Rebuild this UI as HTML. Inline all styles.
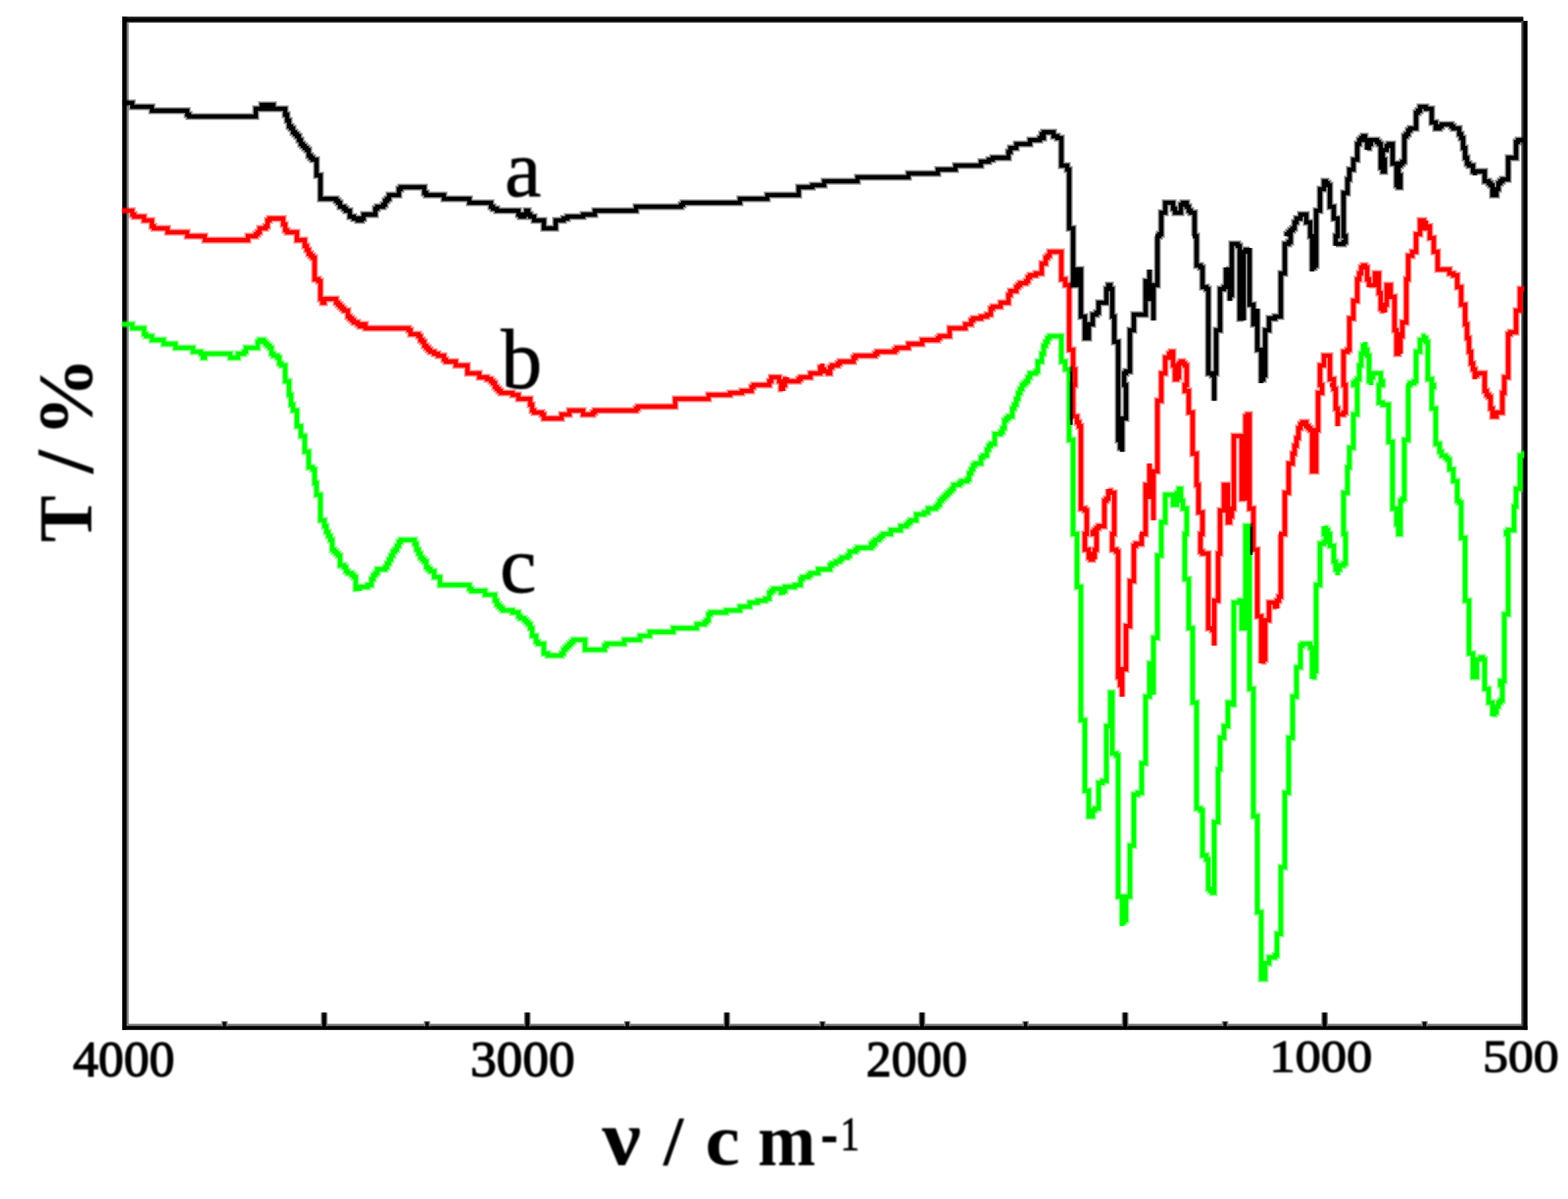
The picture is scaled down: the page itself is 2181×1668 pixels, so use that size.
<!DOCTYPE html>
<html lang="en"><head><meta charset="utf-8"><title>FT-IR spectra</title>
<style>
html,body{margin:0;padding:0;background:#fff;}
body{width:2181px;height:1668px;overflow:hidden;}
svg{display:block;position:absolute;left:0;top:0;}
text{font-family:"Liberation Serif","DejaVu Serif",serif;fill:#000;}
.tk{font-size:70px;text-anchor:middle;stroke:#000;stroke-width:1.4px;paint-order:stroke;}
.ax{font-size:100px;font-weight:bold;}
.lb{font-size:118px;}
.fr{stroke-width:9.8px !important;stroke-opacity:.42;}
.cv{fill:none;stroke-width:5.8px;stroke-linejoin:miter;stroke-miterlimit:2;stroke-linecap:square;mix-blend-mode:multiply;}
</style></head><body>
<svg xmlns="http://www.w3.org/2000/svg" width="2181" height="1668" viewBox="0 0 2181 1668">
<defs><filter id="sf" x="-2%" y="-2%" width="104%" height="104%"><feGaussianBlur stdDeviation="0.75"/></filter>
<clipPath id="pc"><rect x="169.6" y="20" width="1950.6" height="1420"/></clipPath>
<filter id="tf" x="-5%" y="-5%" width="110%" height="110%"><feGaussianBlur stdDeviation="0.8"/></filter></defs>
<rect x="0" y="0" width="2181" height="1668" fill="#fff"/>

<g filter="url(#sf)">
<rect x="170" y="23.1" width="1948.8" height="8.4" fill="#2a2a2a"/>
<rect x="170" y="25.5" width="1948.8" height="4" fill="#000"/>
<rect x="170" y="23.1" width="6.6" height="1409.6" fill="#000"/>
<rect x="176.6" y="31" width="2.4" height="1394" fill="#808080"/>
<rect x="176" y="1424.2" width="1942" height="3" fill="#808080"/>
<rect x="170" y="1427.2" width="1954.7" height="5.6" fill="#000"/>
<rect x="2116" y="29" width="3" height="1398" fill="#505050"/>
<rect x="2118.6" y="29" width="6.1" height="1403.7" fill="#000"/>
<rect x="446.3" y="1408.6" width="9.2" height="19" fill="#7a7a7a"/>
<rect x="448.2" y="1408.6" width="5.4" height="19.4" fill="#000"/>
<rect x="728.9" y="1408.6" width="9.2" height="19" fill="#7a7a7a"/>
<rect x="730.8" y="1408.6" width="5.4" height="19.4" fill="#000"/>
<rect x="1006.4" y="1408.6" width="9.2" height="19" fill="#7a7a7a"/>
<rect x="1008.3" y="1408.6" width="5.4" height="19.4" fill="#000"/>
<rect x="1277.9" y="1408.6" width="9.2" height="19" fill="#7a7a7a"/>
<rect x="1279.8" y="1408.6" width="5.4" height="19.4" fill="#000"/>
<rect x="1560.4" y="1408.6" width="9.2" height="19" fill="#7a7a7a"/>
<rect x="1562.3" y="1408.6" width="5.4" height="19.4" fill="#000"/>
<rect x="1837.9" y="1408.6" width="9.2" height="19" fill="#7a7a7a"/>
<rect x="1839.8" y="1408.6" width="5.4" height="19.4" fill="#000"/>
<rect x="307.8" y="1420.5" width="9" height="7" fill="#8a8a8a"/>
<rect x="309.8" y="1421.5" width="5" height="6.5" fill="#111"/>
<rect x="589.5" y="1420.5" width="9" height="7" fill="#8a8a8a"/>
<rect x="591.5" y="1421.5" width="5" height="6.5" fill="#111"/>
<rect x="868.0" y="1420.5" width="9" height="7" fill="#8a8a8a"/>
<rect x="870.0" y="1421.5" width="5" height="6.5" fill="#111"/>
<rect x="1139.5" y="1420.5" width="9" height="7" fill="#8a8a8a"/>
<rect x="1141.5" y="1421.5" width="5" height="6.5" fill="#111"/>
<rect x="1422.0" y="1420.5" width="9" height="7" fill="#8a8a8a"/>
<rect x="1424.0" y="1421.5" width="5" height="6.5" fill="#111"/>
<rect x="1699.5" y="1420.5" width="9" height="7" fill="#8a8a8a"/>
<rect x="1701.5" y="1421.5" width="5" height="6.5" fill="#111"/>
<rect x="1977.0" y="1420.5" width="9" height="7" fill="#8a8a8a"/>
<rect x="1979.0" y="1421.5" width="5" height="6.5" fill="#111"/>
</g>
<g filter="url(#sf)" style="isolation:isolate">
<defs>
<path id="p_black" d="M173.1 143.1H184.0V148.6H211.3V154.0H260.4V159.5H263.1V162.2H355.8V151.3H364.0V145.9H380.3V151.3H383.0H366.7H396.7V159.5H399.4V167.7H402.1V175.8H404.8V178.6H407.6V184.0H410.3V186.7H413.0V189.5H415.8V194.9H418.5V200.4H421.2V203.1H423.9V205.8H426.7V208.6H429.4V216.7H432.1V219.5H434.8V222.2H440.3V244.0H445.7V276.7H467.6V279.4H470.3V282.2H473.0V287.6H478.5V290.3H481.2V293.1H486.6V301.3H492.1V304.0H497.5V306.7H503.0V304.0H505.7V298.5H522.1V290.3H524.8V287.6H533.0V284.9H535.7V279.4H538.4V276.7H541.2V271.3H554.8V263.1H557.5V260.4H590.2V268.5H593.0V271.3H601.1H590.2H617.5V276.7H652.9V282.2H682.9V287.6H685.7V290.3H691.1V293.1H721.1V298.5H723.8V301.3H729.3V298.5H732.0V293.1H734.7V298.5H737.5V301.3H742.9V306.7H756.5V317.6H772.9V306.7H783.8V304.0H789.2V301.3H811.1V298.5H827.4V293.1H884.7V287.6H947.4V284.9H950.1V282.2H1029.2V276.7H1067.3V271.3H1110.9V260.4H1130.0V257.6H1146.4V252.2H1192.7V246.7H1263.6V241.3H1304.5V235.8H1329.0V230.4H1364.5V224.9H1375.4V222.2H1380.8V219.5H1402.7V211.3H1405.4V205.8H1413.6V200.4H1432.6V194.9H1446.3V192.2H1449.0V186.7H1451.7V192.2H1449.0V194.9V186.7H1451.7V184.0H1465.4V189.5H1470.8V192.2H1476.3V230.4H1484.4V235.8H1487.2V317.6H1492.6V396.7H1498.1V374.9H1503.5V440.3H1509.0V470.3H1514.4V451.2H1519.9V437.6H1525.3V434.8H1528.1V421.2H1539.0V402.1H1541.7V396.7H1544.4V402.1H1547.1V440.3H1549.9V475.7H1555.3V612.0H1558.1V622.9H1560.8V628.4V582.1H1566.2V535.7H1563.5V519.4H1566.2V516.6H1571.7V459.4H1577.1V437.6H1593.5V391.2H1598.9V374.9V415.8H1604.4V445.7V396.7H1609.9V328.5H1607.1H1612.6V325.8H1615.3V295.8H1620.8V282.2H1631.7V290.3H1634.4V295.8H1642.6V284.9H1645.3V282.2H1650.7V287.6H1653.5V293.1H1656.2V295.8H1661.6V328.5H1658.9H1664.4V369.4H1669.8V372.1H1672.6V399.4H1678.0V402.1H1680.7V519.4H1686.2V522.1H1688.9V557.5V519.4H1691.6V459.4H1697.1V402.1H1702.5V399.4H1705.3V372.1V374.9H1708.0V377.6H1710.7V418.5V410.3H1713.4V339.4H1718.9V336.7V339.4H1721.6V342.1H1724.4V443.0H1729.8V445.7V350.3H1732.5V347.6H1738.0V344.9V423.9H1743.4V451.2H1748.9V453.9V429.4V486.6H1754.3V533.0V527.5H1757.1V522.1H1759.8V459.4H1765.2V443.0H1773.4V440.3H1781.6V380.3H1787.1V339.4H1792.5V336.7H1795.2V325.8H1789.8V328.5V325.8H1792.5V323.1H1795.2V320.3H1798.0V317.6H1800.7V309.4H1803.4V304.0H1808.9V298.5H1817.0V309.4H1822.5V328.5H1825.2V377.6V372.1H1828.0V369.4H1830.7V293.1H1836.1V263.1H1841.6V252.2H1844.3V254.9H1847.0V257.6H1849.8V287.6H1855.2V304.0H1860.7V328.5H1857.9V342.1V339.4H1868.8V336.7H1871.6V328.5H1868.8V268.5H1874.3V249.5H1877.0V235.8H1882.5V222.2H1887.9V200.4H1890.7V194.9H1893.4V192.2H1896.1V189.5H1898.8V194.9H1901.6V208.6V205.8H1904.3V200.4H1907.0V194.9H1915.2V197.7H1917.9V200.4H1920.6V233.1H1923.4V238.5H1926.1V222.2H1923.4V208.6H1928.8V203.1H1931.5V200.4H1937.0V227.6H1942.5V257.6H1945.2V260.4H1947.9V244.0H1945.2V230.4H1947.9V227.6H1950.6V224.9H1953.4V189.5H1956.1V186.7H1958.8V181.3H1961.5V178.6H1969.7V156.8H1972.4V154.0H1975.2V148.6H1983.3V151.3H1991.5V170.4H1997.0V178.6H2002.4V175.8H2005.2V173.1H2018.8V175.8H2021.5V178.6H2029.7V186.7H2032.4V192.2H2035.1V205.8H2037.9V219.5H2040.6V227.6H2043.3V230.4H2048.8V238.5H2051.5V244.0V238.5H2065.1V252.2H2070.6V254.9H2073.3V257.6H2076.0V271.3H2081.5V263.1H2084.2V254.9H2086.9V252.2H2089.7V249.5H2097.8V219.5H2108.8V197.7H2111.5V194.9H2119.7"/>
<path id="p_red" d="M170.4 293.1H184.0V298.5H186.7V301.3H200.4V306.7H211.3V314.9H214.0V317.6H233.1V323.1H260.4V328.5H284.9V334.0H344.9V328.5H355.8V325.8H358.5V323.1H361.2V317.6H369.4V314.9H372.1V306.7H374.9V304.0H393.9V312.2H396.7V320.3H399.4V323.1H413.0V334.0H423.9V342.1H426.7V347.6H429.4V353.0H432.1V355.8H434.8V358.5H437.6V388.5H443.0V391.2H445.7V415.8H448.5V421.2H451.2V415.8H467.6V421.2H470.3V423.9H473.0V426.7H475.7V429.4H478.5V432.1H483.9V440.3H486.6V443.0H489.4V445.7H492.1V448.5H497.5V451.2H500.3V453.9H505.7V451.2H508.4V456.6H568.4V459.4H571.1V464.8H582.1V467.6H584.8V473.0H587.5V475.7H590.2V481.2H593.0V483.9H595.7V486.6H598.4V489.4H603.9V492.1H609.3V494.8H617.5V500.3H620.2V503.0H633.9V508.4H650.2V519.4H666.6V524.8H677.5V527.5H682.9V530.3H685.7V533.0H688.4V538.4H691.1V541.2H693.8V543.9H696.6V546.6H712.9V549.3H721.1V554.8H737.5V563.0H740.2V571.1H742.9V573.9H753.8V576.6H756.5V582.1H781.1V576.6H792.0V571.1H811.1V576.6H824.7V573.9H827.4V571.1H884.7V568.4H887.4V565.7H939.2V554.8H985.5V549.3H1015.5V546.6H1031.9V543.9H1045.5V538.4H1048.2V535.7H1070.1V530.3H1072.8V524.8H1083.7V530.3H1086.4V541.2H1089.1V543.9V535.7H1091.9V527.5H1094.6V524.8V530.3H1110.9V527.5H1113.7V524.8H1127.3V519.4H1140.9V511.2H1143.7V505.7V513.9H1146.4V516.6H1151.8V519.4H1154.6V511.2H1157.3V508.4H1165.5V505.7H1168.2V503.0H1187.3V497.5H1190.0V494.8H1217.3V492.1H1220.0V489.4H1244.5V486.6H1247.3V483.9H1263.6V478.5H1282.7V473.0H1304.5V470.3H1307.2V467.6H1320.9V456.6H1342.7V451.2H1350.9V445.7H1353.6V443.0H1364.5V440.3H1372.7V437.6H1378.1V429.4H1380.8V426.7H1391.8V421.2H1402.7V410.3H1405.4V404.8H1413.6V399.4H1416.3V396.7H1419.0V393.9H1427.2V391.2H1429.9V385.8H1432.6V383.0H1440.8V380.3H1449.0V366.7H1454.5V358.5H1457.2V355.8H1459.9V350.3H1476.3V388.5H1481.7V396.7H1487.2V486.6H1492.6V513.9H1495.3V535.7H1492.6V579.3H1498.1V587.5H1500.8V593.0H1503.5V707.5H1509.0V710.2H1511.7V742.9H1509.0V764.7H1514.4V775.6H1517.2V778.3H1519.9V767.4V775.6H1522.6V778.3V764.7H1525.3V742.9H1519.9V740.2H1522.6V737.5H1525.3V734.7H1528.1V732.0H1536.2V696.6H1539.0V693.8H1541.7V680.2V682.9H1544.4V685.7H1549.9V742.9H1547.1V764.7H1552.6V767.4H1555.3V941.9H1558.1V952.8H1560.8V969.2V931.0H1566.2V871.0H1571.7V808.3H1577.1V759.3H1579.9V756.5H1588.0V742.9H1585.3H1593.5V674.7H1598.9V644.8V691.1H1604.4V723.8V655.7H1609.9V557.5H1615.3V519.4H1620.8V497.5H1626.2V492.1H1628.9V489.4H1631.7V508.4H1634.4V527.5H1637.1V524.8H1639.8V505.7H1642.6V503.0H1645.3V505.7H1648.0V508.4H1650.7V535.7H1648.0V543.9H1653.5V573.9H1658.9V631.1H1664.4V674.7H1667.1V712.9H1672.6V742.9H1669.8V767.4H1672.6V770.2H1680.7V873.8H1686.2V876.5H1688.9V898.3V835.6H1694.4V770.2H1697.1V710.2H1702.5V674.7H1708.0V726.5H1710.7V718.4H1713.4V707.5H1716.2V606.6H1727.1V693.8H1732.5V696.6V579.3H1735.3V576.6H1738.0V707.5H1743.4V764.7H1748.9V857.4H1754.3V922.8V920.1H1757.1V917.4H1759.8V862.9H1765.2V838.3H1773.4V843.8H1776.2V846.5V835.6H1778.9V830.1H1781.6V742.9H1778.9H1787.1V685.7H1792.5V644.8H1798.0V631.1H1800.7V620.2H1803.4V609.3H1806.1V595.7H1808.9V590.2H1811.6V587.5H1817.0V593.0H1819.8V595.7H1822.5V598.4H1825.2V655.7H1830.7V598.4H1833.4V546.6H1838.9V535.7H1836.1V508.4H1841.6V494.8H1849.8V527.5H1855.2V535.7H1849.8H1855.2V541.2H1857.9V568.4H1860.7V593.0V576.6H1868.8V573.9H1871.6V535.7H1868.8V489.4H1874.3V486.6H1877.0V443.0H1882.5V418.5H1887.9V388.5H1890.7V380.3H1893.4V372.1H1896.1V369.4H1898.8V372.1H1901.6V388.5H1904.3V399.4V396.7H1912.5V380.3H1917.9V407.6H1920.6V429.4H1923.4V432.1H1926.1V434.8V423.9H1928.8V396.7H1934.3V413.0H1939.7V459.4H1942.5V492.1H1945.2V462.1V478.5H1947.9V492.1V467.6H1950.6V448.5H1956.1V388.5H1958.8V355.8H1964.3V350.3H1969.7V325.8H1975.2V306.7H1980.6V317.6H1983.3V306.7V314.9H1988.8V331.2H1994.3V350.3H1999.7V374.9H2016.1V380.3H2021.5V383.0H2027.0V399.4H2032.4V423.9H2037.9V451.2H2040.6V470.3H2043.3V489.4H2046.1V505.7H2048.8V513.9H2051.5V527.5V522.1H2054.2V519.4H2065.1V543.9H2067.9V549.3H2070.6V552.1H2073.3V568.4H2076.0V579.3H2081.5V573.9H2089.7V546.6H2092.4V524.8H2097.8V464.8H2100.6V462.1H2108.8V432.1H2114.2V402.1H2119.7"/>
<path id="p_green" d="M170.4 451.2H184.0V456.6H200.4V464.8H203.1V467.6H211.3V473.0H227.6V478.5H244.0V483.9H268.5V489.4H279.4V492.1H282.2V497.5H284.9V492.1H320.3V497.5H331.2V492.1H339.4V489.4H342.1V483.9H358.5V475.7H361.2V473.0H366.7V475.7H369.4V478.5H372.1V481.2H374.9V483.9H377.6V492.1H380.3V494.8H385.8V497.5H388.5V505.7H391.2V508.4H396.7V530.3H402.1V549.3H404.8V563.0H407.6V571.1H413.0V593.0H418.5V606.6H423.9V628.4H429.4V650.2H434.8V652.9H437.6V672.0H440.3V688.4H445.7V723.8H451.2V732.0H453.9V740.2H456.6V745.6H459.4V751.1H462.1V764.7H464.8V767.4H467.6V770.2H470.3V772.9H473.0V786.5H478.5V789.2H481.2V794.7H483.9V797.4H489.4V800.2H492.1V802.9H494.8V819.2H500.3V822.0V816.5H511.2V813.8H516.6V805.6H519.4V800.2H522.1V797.4H524.8V792.0H535.7V789.2H538.4V783.8H541.2V778.3H543.9V772.9H546.6V767.4H549.3V764.7H552.1V759.3H554.8V753.8H557.5V751.1H576.6V756.5H579.3V764.7H582.1V770.2H584.8V775.6H587.5V778.3H590.2V781.1H593.0V789.2H595.7V792.0H598.4V794.7H603.9V802.9H612.0V813.8H652.9V819.2H655.7V822.0H674.7V827.4H688.4V835.6H691.1V841.0H693.8V843.8H696.6V846.5H699.3V849.2H712.9V852.0H721.1V857.4H723.8V860.1H729.3V862.9H732.0V865.6H734.7V868.3H737.5V873.8H740.2V884.7H745.6V892.8H748.4V895.6H756.5V909.2H762.0V911.9H781.1V909.2H783.8V903.8H786.5V901.0H789.2V898.3H792.0V895.6H794.7V892.8H797.4V890.1H813.8V903.8H841.0V898.3H843.8V895.6H868.3V890.1H890.1V884.7H903.8V879.2H936.5V873.8H969.2V868.3H980.1V865.6H982.8V862.9H985.5V854.7H988.3V852.0H1010.1V849.2H1029.2V843.8H1042.8V838.3H1053.7V835.6H1064.6V832.9H1070.1V824.7H1072.8V822.0H1075.5V819.2H1086.4V824.7H1089.1V827.4V822.0H1091.9V816.5H1105.5V813.8H1113.7V805.6H1116.4V802.9H1124.6V800.2H1127.3V797.4H1138.2V792.0H1154.6V786.5H1157.3V783.8H1162.7V781.1H1168.2V778.3H1170.9V775.6H1179.1V772.9H1181.8V767.4H1190.0V764.7H1192.7V762.0H1211.8V756.5H1214.5V753.8H1217.3V751.1V756.5H1214.5V759.3H1211.8V762.0V756.5H1214.5V753.8H1217.3V751.1H1222.7V748.4H1225.4V745.6H1228.2V742.9H1239.1V737.5H1252.7V732.0H1260.9V729.3H1263.6V726.5H1266.3V723.8H1274.5V715.6H1285.4V712.9H1290.9V707.5H1301.8V704.7H1304.5V702.0H1307.2V696.6H1310.0V693.8H1312.7V691.1H1315.4V688.4H1318.1V685.7H1320.9V682.9H1323.6V680.2H1326.3V674.7H1334.5V672.0H1337.2V669.3H1345.4V666.6H1348.1V658.4H1350.9V652.9H1353.6V647.5H1356.3V644.8H1364.5V636.6H1367.2V633.9H1372.7V625.7H1375.4V620.2H1378.1V617.5H1383.6V603.9H1391.8V601.1H1394.5V595.7H1397.2V584.8H1399.9V582.1H1402.7V579.3H1408.1V568.4H1410.8V563.0H1413.6V554.8H1416.3V546.6H1419.0V541.2H1421.7V535.7H1424.5V533.0H1427.2V530.3H1429.9V524.8H1432.6V519.4H1440.8V516.6H1443.5V503.0H1449.0V492.1H1451.7V481.2H1454.5V475.7H1457.2V470.3H1459.9V467.6H1476.3V503.0H1481.7V513.9H1487.2V612.0H1492.6V742.9H1498.1V816.5H1503.5V1001.9H1509.0V1100.0H1514.4V1135.5H1519.9V1127.3H1522.6V1124.6H1528.1V1089.1H1533.5V1086.4H1539.0V1010.1H1544.4V963.7H1547.1V1048.2H1552.6V1051.0H1555.3V1247.3H1560.8V1288.2V1282.7H1563.5V1280.0H1566.2V1247.3H1571.7V1176.4H1577.1V1105.5H1582.6V1102.8H1588.0V1061.9H1593.5V969.2H1598.9V922.8H1604.4V966.5V887.4H1609.9V772.9H1615.3V726.5H1620.8V688.4H1631.7V702.0H1637.1V685.7H1639.8V680.2H1642.6V696.6H1645.3V707.5H1650.7V742.9H1648.0V805.6H1653.5V873.8H1658.9V977.4H1664.4V1124.6H1669.8V1127.3H1672.6V1190.0H1678.0V1195.5H1680.7V1236.4H1683.5V1239.1H1686.2V1241.8H1688.9V1143.7H1694.4V1070.1H1697.1V1026.4H1702.5V1010.1H1708.0V977.4H1710.7V980.1H1708.0H1716.2V838.3H1724.4V835.6H1727.1V873.8H1732.5V732.0H1738.0V958.3H1743.4V1135.5H1748.9V1269.1H1754.3V1361.8H1759.8V1340.0H1765.2V1331.8H1773.4V1329.0H1776.2V1299.1H1781.6V1206.4H1787.1V1102.8H1792.5V1026.4H1798.0V969.2H1803.4V928.3H1808.9V898.3H1811.6V895.6H1822.5V901.0H1825.2V944.6V941.9H1828.0V933.7H1830.7V813.8H1836.1V756.5H1841.6V753.8H1844.3V742.9H1841.6V732.0V734.7H1844.3V737.5H1847.0V742.9H1849.8V759.3H1855.2V781.1H1857.9V792.0H1860.7V800.2V792.0H1863.4V786.5H1868.8V783.8H1871.6V742.9H1868.8V685.7H1874.3V650.2H1877.0V622.9H1882.5V576.6H1887.9V535.7H1882.5V533.0H1885.2V530.3H1887.9V527.5H1890.7V508.4H1893.4V492.1H1896.1V481.2H1898.8V475.7V486.6H1901.6V494.8H1904.3V530.3H1907.0V535.7V524.8H1909.7V519.4H1920.6V530.3H1923.4V535.7H1917.9V560.2H1923.4V563.0H1931.5V614.8H1937.0V707.5H1942.5V729.3H1945.2V742.9H1947.9V696.6H1950.6V693.8H1953.4V612.0H1958.8V535.7H1956.1H1961.5V533.0H1967.0V530.3H1969.7V489.4H1975.2V473.0H1980.6V467.6H1983.3H1980.6V470.3H1983.3V475.7H1986.1V527.5H1991.5V535.7H1994.3V538.4H1991.5V568.4H1997.0V617.5H2002.4V628.4H2005.2V633.9H2010.6V636.6H2013.3V639.3H2016.1V652.9H2021.5V669.3H2027.0V696.6H2029.7V699.3H2032.4V748.4H2037.9V835.6H2043.3V909.2H2048.8V941.9H2054.2V917.4H2059.7V914.7H2062.4V917.4H2065.1V958.3H2070.6V977.4H2076.0V996.4V993.7H2078.8V991.0H2081.5V982.8H2084.2V977.4H2086.9V974.6H2089.7V952.8H2086.9V947.4H2092.4V854.7H2097.8V742.9H2095.1V740.2H2097.8V737.5H2106.0V704.7H2108.8V680.2H2114.2V633.9H2119.7V631.1"/>
</defs>
<g clip-path="url(#pc)">
<use href="#p_black" class="cv fr" stroke="#000"/>
<use href="#p_black" class="cv" stroke="#000"/>
<use href="#p_red" class="cv fr" stroke="#ff0000"/>
<use href="#p_red" class="cv" stroke="#ff0000"/>
<use href="#p_green" class="cv fr" stroke="#00ff00"/>
<use href="#p_green" class="cv" stroke="#00ff00"/>
</g>
<path d="M1490.3 517 L1490.3 591" stroke="#1a0800" stroke-width="3.6" fill="none"/>
<path d="M1740.6 733 L1740.6 772" stroke="#0a1a00" stroke-width="3.2" fill="none"/>
</g>
<g filter="url(#tf)">
<text transform="matrix(1.0109 0 0 1.0041 101.49 1496.99)" x="0" y="0" style="font-weight:normal;font-size:70px;stroke:#000;stroke-width:1.8px">4000</text>
<text transform="matrix(1.0369 0 0 1.0041 654.31 1496.99)" x="0" y="0" style="font-weight:normal;font-size:70px;stroke:#000;stroke-width:1.8px">3000</text>
<text transform="matrix(1.0037 0 0 1.0041 1204.79 1496.99)" x="0" y="0" style="font-weight:normal;font-size:70px;stroke:#000;stroke-width:1.8px">2000</text>
<text transform="matrix(1.0219 0 0 0.9000 1765.78 1491.05)" x="0" y="0" style="font-weight:normal;font-size:70px;stroke:#000;stroke-width:1.8px">1000</text>
<text transform="matrix(1.0070 0 0 0.9000 2062.48 1491.05)" x="0" y="0" style="font-weight:normal;font-size:70px;stroke:#000;stroke-width:1.8px">500</text>
<text transform="matrix(1.2115 0 0 1.1064 837.40 1619.79)" x="0" y="0" style="font-weight:bold;font-size:100px">ν</text>
<text transform="matrix(1.0068 0 0 0.9642 922.81 1619.94)" x="0" y="0" style="font-weight:bold;font-size:100px">/</text>
<text transform="matrix(1.0831 0 0 1.0271 981.01 1620.37)" x="0" y="0" style="font-weight:bold;font-size:100px">c</text>
<text transform="matrix(0.9658 0 0 1.0383 1053.89 1620.90)" x="0" y="0" style="font-weight:bold;font-size:100px">m</text>
<text transform="matrix(1.0857 0 0 1.6000 1141.19 1610.40)" x="0" y="0" style="font-weight:normal;font-size:68px">-</text>
<text transform="matrix(0.7760 0 0 1.0065 1169.03 1599.80)" x="0" y="0" style="font-weight:normal;font-size:68px;stroke:#000;stroke-width:1.2px">1</text>
<text transform="matrix(0 -0.9748 1.0626 0 126.80 754.36)" x="0" y="0" style="font-weight:bold;font-size:100px">T</text>
<text transform="matrix(0 -1.1661 1.1328 0 128.87 658.43)" x="0" y="0" style="font-weight:bold;font-size:100px">/</text>
<text transform="matrix(0 -1.1050 1.0706 0 128.39 607.50)" x="0" y="0" style="font-weight:bold;font-size:100px">%</text>
<text transform="matrix(0.9688 0 0 0.9530 702.11 273.37)" x="0" y="0" style="font-weight:normal;font-size:118px;stroke:#000;stroke-width:1.0px">a</text>
<text transform="matrix(0.9694 0 0 1.0012 696.78 539.70)" x="0" y="0" style="font-weight:normal;font-size:118px;stroke:#000;stroke-width:1.0px">b</text>
<text transform="matrix(0.9711 0 0 0.9513 695.22 823.57)" x="0" y="0" style="font-weight:normal;font-size:118px;stroke:#000;stroke-width:1.0px">c</text>
</g>
</svg></body></html>
